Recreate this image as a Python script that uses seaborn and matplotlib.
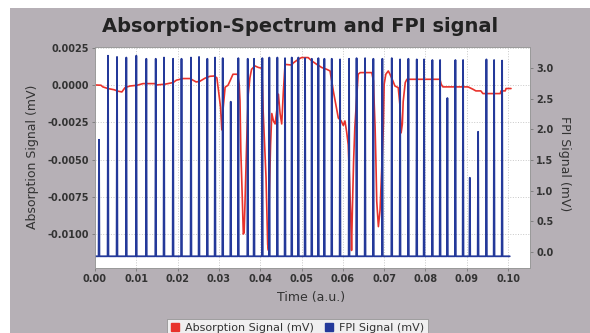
import numpy as np
import seaborn as sns
import matplotlib.pyplot as plt
from matplotlib.patches import Rectangle
from matplotlib.lines import Line2D

# Absorption signal (mV)
abs_t = [0.0000, 0.00145, 0.0019, 0.0031, 0.0046, 0.0056, 0.0065, 0.0073, 0.0085, 0.0102,
         0.0116, 0.0145, 0.0149, 0.0169, 0.0189, 0.0197, 0.0213, 0.0230, 0.0245, 0.0254,
         0.0266, 0.0278, 0.0288, 0.0295, 0.0300, 0.0304, 0.0307, 0.0310, 0.0315, 0.0322,
         0.0327, 0.0334, 0.0345, 0.0349, 0.0351, 0.0353, 0.0357, 0.0359, 0.0361, 0.0363,
         0.0367, 0.0371, 0.0375, 0.0379, 0.0387, 0.0395, 0.0404, 0.0407, 0.0414, 0.0418,
         0.0420, 0.0422, 0.0425, 0.0428, 0.0432, 0.0436, 0.0440, 0.0444, 0.0448, 0.0452,
         0.0456, 0.0460, 0.0476, 0.0480, 0.0492, 0.0500, 0.0516, 0.0525, 0.0537, 0.0549,
         0.0561, 0.0569, 0.0573, 0.0577, 0.0583, 0.0589, 0.0596, 0.0601, 0.0605, 0.0609,
         0.0613, 0.0616, 0.0619, 0.0621, 0.0623, 0.0626, 0.0629, 0.0634, 0.0637, 0.0642,
         0.0670, 0.0674, 0.0675, 0.0678, 0.0680, 0.0682, 0.0686, 0.0690, 0.0694, 0.0698,
         0.0700, 0.0704, 0.0710, 0.0714, 0.0721, 0.0726, 0.0734, 0.0738, 0.0741, 0.0744,
         0.0746, 0.0751, 0.0755, 0.0835, 0.0838, 0.0842, 0.0903, 0.0915, 0.0922, 0.0934,
         0.0939, 0.0981, 0.0983, 0.0993, 0.0995, 0.1007]
abs_v = [0.00002, 0.0, -0.00011, -0.00022, -0.0003, -0.0004, -0.00045, -0.00015, -0.00005, 0.0,
         0.00011, 0.00011, 0.00002, 0.00007, 0.00018, 0.00034, 0.00045, 0.00045, 0.00022, 0.00027,
         0.00047, 0.0006, 0.00062, 0.0005, -0.0006, -0.0015, -0.003, -0.0016, -0.00013, 0.0,
         0.0003, 0.00074, 0.00074, 0.00007, -0.00105, -0.0044, -0.008, -0.0100, -0.0099, -0.008,
         -0.004, -0.0006, 0.0005, 0.00107, 0.0013, 0.0012, 0.00114, -0.0017, -0.0062, -0.0107,
         -0.0111, -0.0073, -0.004, -0.0019, -0.0024, -0.0026, -0.0017, -0.0006, -0.0019, -0.0026,
         -0.0004, 0.0014, 0.00136, 0.0015, 0.00174, 0.00186, 0.00186, 0.00163, 0.0014, 0.00119,
         0.00107, 0.00096, 0.0003, -0.0004, -0.0013, -0.0022, -0.0024, -0.0027, -0.0024, -0.0031,
         -0.004, -0.0062, -0.0088, -0.0111, -0.0084, -0.0051, -0.0028, -0.0006, 0.00074, 0.00085,
         0.00085, 0.0003, -0.0006, -0.0028, -0.0051, -0.0078, -0.0095, -0.0084, -0.0057, -0.0028,
         0.00007, 0.00074, 0.00096, 0.00074, 0.0003, -0.00005, -0.00016, -0.0013, -0.0032, -0.0026,
         -0.0011, 0.00018, 0.0004, 0.0004, 0.00007, -0.00011, -0.00011, -0.00027, -0.00038, -0.00038,
         -0.00056, -0.00056, -0.00038, -0.00038, -0.00022, -0.00022]

# FPI signal (mV): transmission peaks on a flat baseline
fpi_peak_t = [0.00097, 0.00315, 0.00533, 0.00758, 0.0100, 0.01242, 0.0147, 0.0167, 0.0189, 0.02094,
              0.02324, 0.02518, 0.02719, 0.02906, 0.03092, 0.03286, 0.0347, 0.03697, 0.0385, 0.04051,
              0.0422, 0.04414, 0.046, 0.04763, 0.04923, 0.05085, 0.05247, 0.05407, 0.05552, 0.05731,
              0.05932, 0.0615, 0.06332, 0.06538, 0.06738, 0.06956, 0.07184, 0.07385, 0.07586, 0.07789,
              0.07966, 0.08167, 0.08354, 0.0853, 0.08724, 0.0891, 0.09073, 0.09274, 0.09475, 0.09661,
              0.09855]
fpi_peak_h = [1.83, 3.20, 3.18, 3.17, 3.20, 3.15, 3.15, 3.17, 3.15, 3.15,
              3.17, 3.18, 3.15, 3.17, 3.16, 2.45, 3.16, 3.15, 3.15, 3.16,
              3.17, 3.17, 3.16, 3.17, 3.17, 3.16, 3.15, 3.16, 3.15, 3.15,
              3.14, 3.15, 3.16, 3.16, 3.15, 3.15, 3.16, 3.14, 3.15, 3.14,
              3.14, 3.13, 3.13, 2.51, 3.13, 3.13, 1.21, 1.96, 3.14, 3.13,
              3.12]
fpi_base = -0.07
fpi_start, fpi_end = 0.0, 0.1004

x_ticks = [0.00, 0.01, 0.02, 0.03, 0.04, 0.05, 0.06, 0.07, 0.08, 0.09, 0.10]
left_ticks = [0.0025, 0.0, -0.0025, -0.0050, -0.0075, -0.0100]
right_ticks = [0.0, 0.5, 1.0, 1.5, 2.0, 2.5, 3.0]

RED = '#e8322b'
BLUE = '#24399a'
TXT = '#333333'

# spike outline for each FPI peak
hw = 0.0001
fpi_t = [fpi_start]
fpi_v = [fpi_base]
for t, h in zip(fpi_peak_t, fpi_peak_h):
    fpi_t += [t - hw, t, t + hw]
    fpi_v += [fpi_base, h, fpi_base]
fpi_t.append(fpi_end)
fpi_v.append(fpi_base)

sns.set_theme(style='white')
plt.rcParams['font.family'] = ['DejaVu Sans']

fig = plt.figure(figsize=(5.9, 3.33), dpi=100)
fig.patch.set_facecolor('white')
fig.patches.append(Rectangle((10 / 590, 0), 1, 1 - 8 / 333, transform=fig.transFigure,
                             facecolor='#b6b0b6', edgecolor='none', zorder=-10))

ax = fig.add_axes([95 / 590, 1 - 268 / 333, 435 / 590, 221 / 333])
ax.set_facecolor('white')
sns.lineplot(x=abs_t, y=abs_v, ax=ax, color=RED, lw=1.2, estimator=None)
ax.set_xlim(0, 0.1053)
ax.set_ylim(-0.01228, 0.00257)
ax.set_xticks(x_ticks)
ax.set_xticklabels([f'{v:.2f}' for v in x_ticks])
ax.set_yticks(left_ticks)
ax.set_yticklabels([f'{v:.4f}' for v in left_ticks])
ax.grid(True, color='#c8c8c8', ls=':', lw=0.7)

ax2 = ax.twinx()
sns.lineplot(x=fpi_t, y=fpi_v, ax=ax2, color=BLUE, lw=1.3, estimator=None)
ax2.set_ylim(-0.261, 3.342)
ax2.set_yticks(right_ticks)
ax2.set_yticklabels([f'{v:.1f}' for v in right_ticks])

for a in (ax, ax2):
    a.set_xlabel('')
    a.set_ylabel('')
    a.tick_params(length=2, width=0.6, pad=2.5, colors='#777777', labelcolor=TXT, labelsize=7)
    for lab in a.get_xticklabels() + a.get_yticklabels():
        lab.set_fontweight('bold')
    for s in a.spines.values():
        s.set_color('#9a9a9a')
        s.set_linewidth(0.6)
ax.tick_params(axis='both', which='both', direction='out')
ax.tick_params(axis='y', left=True)
ax.tick_params(axis='x', bottom=True)
ax2.tick_params(axis='y', right=True, direction='out')

fig.text(300 / 590, 1 - 27 / 333, 'Absorption-Spectrum and FPI signal', ha='center', va='center',
         fontsize=14, fontweight='bold', color='#222222')
fig.text(311 / 590, 1 - 298 / 333, 'Time (a.u.)', ha='center', va='center', fontsize=9, color=TXT)
fig.text(33 / 590, 1 - 157 / 333, 'Absorption Signal (mV)', rotation=90, ha='center', va='center',
         fontsize=9, color=TXT)
fig.text(565 / 590, 1 - 164 / 333, 'FPI Signal (mV)', rotation=270, ha='center', va='center',
         fontsize=9, color=TXT)

handles = [Line2D([], [], ls='none', marker='s', markersize=6, color=RED),
           Line2D([], [], ls='none', marker='s', markersize=6, color=BLUE)]
leg = fig.legend(handles, ['Absorption Signal (mV)', 'FPI Signal (mV)'], loc='center',
                 bbox_to_anchor=(297.5 / 590, 1 - 328 / 333), ncol=2, fontsize=8, frameon=True,
                 fancybox=False, handlelength=0.8, handletextpad=0.5, columnspacing=1.0,
                 borderpad=0.35)
leg.get_frame().set_facecolor('white')
leg.get_frame().set_edgecolor('#888888')
leg.get_frame().set_linewidth(0.6)
for txt in leg.get_texts():
    txt.set_color(TXT)

fig.savefig('out.png', dpi=100)
